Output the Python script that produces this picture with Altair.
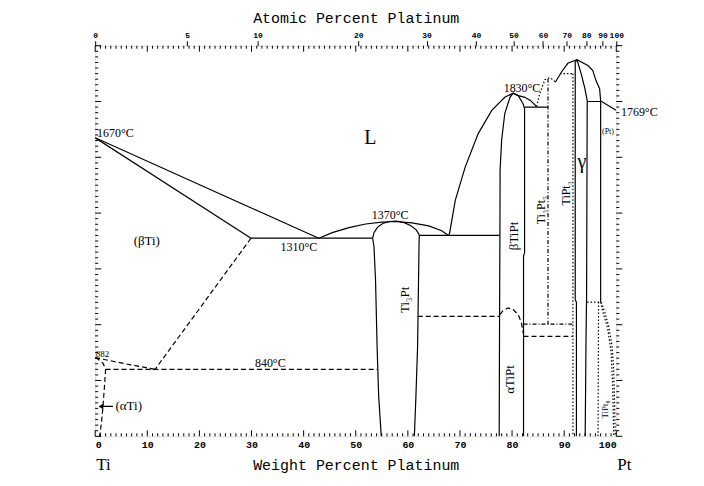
import altair as alt
import pandas as pd

W, H = 523, 392

# ---------------- phase boundaries (wt% Pt, temperature °C) ----------------
solid = {
    "liq_ti": [(0, 1670), (42.9, 1310)],
    "sol_ti": [(0, 1670), (29.9, 1310)],
    "eut_1310": [(29.9, 1310), (53.25, 1310)],
    "liq_ti3pt": [(42.9, 1310), (45.5, 1330), (48.7, 1348), (51.9, 1361), (55.0, 1368), (57.6, 1370),
                  (60.8, 1365), (64.0, 1354), (66.5, 1337), (67.8, 1320)],
    "ti3pt_dome": [(53.25, 1310), (53.5, 1330), (54.2, 1350), (55.2, 1363), (56.5, 1370), (57.8, 1371),
                   (59.3, 1366), (60.6, 1355), (61.6, 1340), (62.2, 1322)],
    "ti3pt_left": [(53.25, 1310), (53.5, 1280), (53.8, 1160), (54.1, 920), (54.4, 744), (54.9, 600)],
    "ti3pt_right": [(62.2, 1322), (62.15, 1290), (62.05, 1160), (61.87, 923), (61.55, 744), (61.25, 600)],
    "eut_1320": [(62.2, 1320), (77.67, 1320)],
    "liq_tipt": [(67.8, 1320), (68.0, 1327), (69.1, 1446), (71.0, 1565), (73.5, 1685), (76.1, 1768),
                 (78.6, 1815), (80.2, 1830), (81.2, 1821), (82.45, 1815), (83.5, 1804), (84.7, 1782)],
    "tipt_left": [(80.2, 1830), (79.6, 1815), (78.6, 1757), (78.0, 1661), (77.7, 1554), (77.67, 1329),
                  (77.6, 1018), (77.53, 600)],
    "tipt_right": [(80.2, 1830), (81.2, 1821), (82.1, 1792), (82.4, 1775), (82.4, 1257), (82.2, 1246),
                   (82.2, 600)],
    "eut_1780": [(82.4, 1780), (86.9, 1780)],
    "liq_gamma": [(88.3, 1869), (89.45, 1905), (90.7, 1937), (92.45, 1950), (94.55, 1929), (95.5, 1911),
                  (96.1, 1875), (96.8, 1846), (97.0, 1802), (99.96, 1769)],
    "gamma_left": [(92.45, 1950), (92.12, 1940), (92.12, 1090), (92.35, 1080), (92.35, 600)],
    "gamma_right": [(92.45, 1950), (93.27, 1899), (93.92, 1851), (94.42, 1804), (94.3, 1100),
                    (94.2, 965), (94.03, 600)],
    "per_1800": [(94.42, 1800), (97.0, 1800)],
    "pt_solvus": [(97.0, 1800), (97.0, 1081)],
    "arrow": [(1.0, 707), (3.4, 707)],
}
dashed = {
    "beta_transus": [(0, 882), (3.4, 869), (6.6, 857), (9.8, 846), (11.5, 840)],
    "alpha_solvus": [(0, 882), (0.55, 876), (1.5, 862), (2.0, 840), (1.82, 790), (1.5, 707),
                     (1.2, 648), (0.86, 600)],
    "beta_solvus": [(29.9, 1310), (11.5, 840)],
    "eutectoid_840": [(2.0, 840), (54.1, 840)],
    "line_1030": [(61.9, 1030), (77.6, 1030)],
    "tipt_trans": [(77.67, 1036), (78.3, 1051), (79.25, 1060), (80.2, 1054), (81.2, 1036), (81.8, 1006),
                   (82.15, 970)],
    "line_958": [(82.2, 958), (91.68, 958)],
}
dotted = {
    "ti3pt5_dome": [(84.7, 1782), (85.3, 1828), (86.3, 1878), (87.2, 1885), (87.9, 1878), (88.3, 1869)],
    "hi_line": [(89.2, 1900), (91.68, 1900)],
    "vert_9168": [(91.68, 1900), (91.68, 600)],
    "line_1081": [(94.4, 1081), (97.0, 1081)],
    "tipt8_left": [(96.6, 1081), (96.5, 600)],
    "tipt8_a": [(97.0, 1081), (97.4, 1047), (98.35, 986), (99.0, 903), (99.3, 783), (99.5, 600)],
    "tipt8_b": [(97.1, 1081), (97.8, 1045), (98.6, 990), (99.2, 920), (99.5, 840), (99.7, 700), (99.8, 600)],
}
dashdot = {
    "ti3pt5_line": [(86.9, 1882), (86.9, 1002)],
    "line_1002": [(82.2, 1002), (91.68, 1002)],
}

# ---------------- labels ----------------
labels_center = [
    ("(βTi)", 9.9, 1300, 13, 0),
    ("1310°C", 39.1, 1279, 12, 0),
    ("840°C", 33.6, 864, 12, 0),
    ("1370°C", 56.6, 1393, 12, 0),
    ("1830°C", 81.9, 1850, 12, 0),
    ("L", 52.8, 1668, 20, 0),
    ("γ", 93.4, 1582, 20, 0),
    ("(Pt)", 98.4, 1689, 8, 0),
    ("Ti₃Pt", 59.4, 1089, 13, 270),
    ("βTiPt", 80.4, 1318, 13, 270),
    ("αTiPt", 79.6, 804, 13, 270),
    ("Ti₃Pt₅", 85.6, 1411, 12, 270),
    ("TiPt₃", 90.3, 1471, 12, 270),
    ("TiPt₈", 97.8, 696, 9, 270),
]
labels_left = [
    ("1670°C", 0.35, 1686, 12, 0),
    ("882", 0.1, 896, 9, 0),
    ("(αTi)", 3.9, 707, 13, 0),
    ("1769°C", 100.9, 1761, 12, 0),
]

# ---------------- axes ----------------
wt_major = list(range(0, 101, 10))
wt_minor = [v for v in range(0, 101) if v % 10]
t_major = list(range(600, 2001, 200))
t_minor = [v for v in range(600, 2001, 20) if v % 200]
at_labels = [0, 5, 10, 20, 30, 40, 50, 60, 70, 80, 90, 100]
M_PT, M_TI = 195.08, 47.867
at_pos = [round(min(100.0, 100 * a * M_PT / (a * M_PT + (100 - a) * M_TI)), 4) for a in at_labels]

FONT_T = "Liberation Mono"
FONT_L = "Liberation Serif"

rows = []
for style, group in [("solid", solid), ("dashed", dashed), ("dotted", dotted), ("dashdot", dashdot)]:
    for name, pts in group.items():
        for i, (x, y) in enumerate(pts):
            rows.append({"seg": name, "i": i, "wt": x, "T": y, "style": style})
df = pd.DataFrame(rows)

xs = alt.Scale(domain=[0, 100], nice=False, zero=False)
ys = alt.Scale(domain=[600, 2000], nice=False, zero=False)

bottom_axis = alt.Axis(values=wt_major, format="d", ticks=False, domain=False, grid=False,
                       labelFont=FONT_T, labelFontSize=10, labelFontWeight="bold", labelPadding=3,
                       labelColor="black",
                       title="Weight Percent Platinum", titleFont=FONT_T, titleFontSize=15,
                       titleFontWeight="normal", titleX=W / 2, titleY=28, titleBaseline="middle",
                       titleColor="black")
left_axis = alt.Axis(values=t_major, format="d", tickSize=6, tickColor="black", domain=False, grid=False,
                     labelFont=FONT_T, labelFontSize=10, labelFontWeight="bold", labelPadding=2,
                     labelColor="black",
                     title="Temperature °C", titleFont=FONT_T, titleFontSize=15, titleFontWeight="normal",
                     titleX=-50, titleY=H / 2, titleAngle=270, titleBaseline="middle", titleColor="black")
top_axis = alt.Axis(orient="top", values=at_pos, tickSize=5, tickColor="black", domain=False, grid=False,
                    labelExpr="format(round(100*(datum.value/195.08)/(datum.value/195.08+(100-datum.value)/47.867)),'d')",
                    labelFont=FONT_T, labelFontSize=8, labelFontWeight="bold", labelPadding=1,
                    labelColor="black", labelFlush=False, labelOverlap=False, labelBound=False,
                    title="Atomic Percent Platinum", titleFont=FONT_T, titleFontSize=15,
                    titleFontWeight="normal", titleX=W / 2, titleY=-28, titleBaseline="middle",
                    titleColor="black")

base = alt.Chart(df)


def line_layer(style, dash, with_axes=False):
    mk = dict(color="black", strokeWidth=1.2, clip=True)
    if dash:
        mk["strokeDash"] = dash
    return base.transform_filter(alt.datum.style == style).mark_line(**mk).encode(
        x=alt.X("wt:Q", scale=xs, axis=bottom_axis if with_axes else None),
        y=alt.Y("T:Q", scale=ys, axis=left_axis if with_axes else None),
        detail="seg:N",
        order="i:Q",
    )


layers = [
    line_layer("solid", None, True),
    line_layer("dashed", [5, 3]),
    line_layer("dotted", [1.5, 2]),
    line_layer("dashdot", [4, 2, 1, 2]),
]

# arrow head for (αTi)
arrow_df = pd.DataFrame({"wt": [1.1], "T": [707]})
layers.append(alt.Chart(arrow_df).mark_point(shape="triangle-left", filled=True, color="black", size=30,
                                             opacity=1).encode(
    x=alt.X("wt:Q", scale=xs, axis=None), y=alt.Y("T:Q", scale=ys, axis=None)))


# inward / mirrored ticks
def vticks(vals, y_from, y_to):
    return alt.Chart(pd.DataFrame({"v": vals})).mark_rule(color="black", strokeWidth=1).encode(
        x=alt.X("v:Q", scale=xs, axis=None), y=alt.value(y_from), y2=alt.value(y_to))


def hticks(vals, x_from, x_to):
    return alt.Chart(pd.DataFrame({"v": vals})).mark_rule(color="black", strokeWidth=1).encode(
        y=alt.Y("v:Q", scale=ys, axis=None), x=alt.value(x_from), x2=alt.value(x_to))


layers += [
    vticks(wt_minor, H, H - 3), vticks(wt_major, H, H - 6),
    vticks(wt_minor, 0, 3), vticks(wt_major, 0, 6),
    hticks(t_minor, 0, 3), hticks(t_major, 0, 6),
    hticks(t_minor, W, W + 3), hticks(t_major, W, W + 6),
]

# top axis (atomic percent) carrier
top_df = pd.DataFrame({"wt": at_pos})
layers.append(alt.Chart(top_df).mark_point(opacity=0).encode(
    x=alt.X("wt:Q", scale=xs, axis=top_axis)))


# in-plot labels
def text_layer(items, align):
    d = pd.DataFrame(items, columns=["text", "wt", "T", "size", "angle"])
    return alt.Chart(d).mark_text(font=FONT_L, color="black", align=align, baseline="middle").encode(
        x=alt.X("wt:Q", scale=xs, axis=None), y=alt.Y("T:Q", scale=ys, axis=None),
        text="text:N", size=alt.Size("size:Q", scale=None), angle=alt.Angle("angle:Q", scale=None))


layers += [text_layer(labels_center, "center"), text_layer(labels_left, "left")]

# element symbols under the axis ends
ends_df = pd.DataFrame({"text": ["Ti", "Pt"], "wt": [0, 100]})
layers.append(alt.Chart(ends_df).mark_text(font=FONT_L, fontSize=17, color="black", align="left",
                                           baseline="middle", dx=1).encode(
    x=alt.X("wt:Q", scale=xs, axis=None), y=alt.value(H + 29), text="text:N"))

chart = alt.layer(*layers).resolve_axis(x="independent").properties(
    width=W, height=H,
    autosize=alt.AutoSizeParams(type="none"),
    padding={"left": 87.5, "top": 37, "right": 80, "bottom": 41},
).configure_view(stroke="black", strokeWidth=1).configure(background="white")

chart.save("out.html", embed_options={"renderer": "svg", "actions": False})
